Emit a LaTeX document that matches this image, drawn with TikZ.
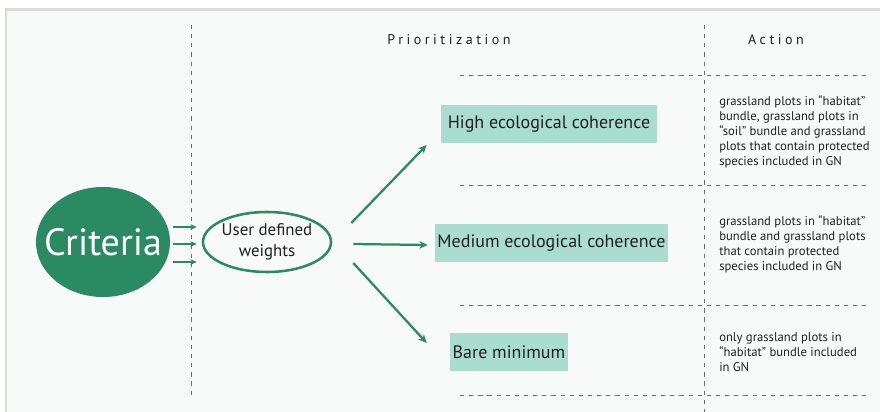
\documentclass[tikz,border=0pt]{standalone}
\usepackage{fontspec}
\setmainfont{PT Sans}
\usetikzlibrary{shapes.geometric,arrows.meta}

\definecolor{leaf}{HTML}{2A8A63}
\definecolor{mint}{HTML}{A9DDCD}
\definecolor{paper}{HTML}{F8FAFA}
\definecolor{rim}{HTML}{DCDCD4}
\definecolor{ink}{HTML}{231F20}

\begin{document}
\begin{tikzpicture}[x=0.025cm,y=-0.025cm,
  sep/.style={draw=gray!85!black, line width=0.6pt, dash pattern=on 3pt off 3.5pt},
  level/.style={fill=mint, minimum height=0.95cm, inner sep=0pt, text=ink, font=\fontsize{12.8}{15}\selectfont},
  action/.style={anchor=west, align=left, inner sep=0pt, text=ink, font=\fontsize{9}{10.7}\selectfont},
  arr/.style={draw=leaf, line width=1.6pt, -{Stealth[length=6pt,width=5.5pt]}},
  smallarr/.style={draw=leaf, line width=1.2pt, -{Stealth[length=4.5pt,width=4pt]}},
  head/.style={text=ink, font=\fontsize{10}{12}\selectfont\addfontfeature{LetterSpace=25}}]

\useasboundingbox (0,0) rectangle (880,412);
\fill[white] (0,0) rectangle (880,412);
\fill[paper] (6,9) rectangle (880,412);
\draw[rim, line width=1.5pt] (6,412) -- (6,9.5) -- (880,9.5);

% columns and rows
\draw[sep] (191,25) -- (191,398);
\draw[sep] (704,25) -- (704,412);
\foreach \y in {75,185,305,395}
  \draw[sep] (460,\y) -- (870,\y);

\node[head] (prio) at (449,40) {Prioritization};
\node[head] (act) at (776,40) {Action};

\node[ellipse, fill=leaf, minimum width=3.35cm, minimum height=2.75cm, inner sep=0pt,
  label={[text=white, font=\fontsize{27}{30}\selectfont]center:Criteria}] (criteria) at (103,242) {};
\node[ellipse, draw=leaf, line width=1.8pt, minimum width=3.1cm, minimum height=1.5cm, inner sep=0pt,
  align=center, text=ink, font=\fontsize{12}{14.5}\selectfont] (weights) at (267,242) {User defined\\weights};

\node[level, minimum width=5.4cm] (high) at (549,124) {High ecological coherence};
\node[level, minimum width=5.825cm] (medium) at (551.5,243) {Medium ecological coherence};
\node[level, minimum width=2.95cm] (bare) at (509,352) {Bare minimum};

\node[action] (act1) at (719,132) {grassland plots in “habitat”\\bundle, grassland plots in\\“soil” bundle and grassland\\plots that contain protected\\species included in GN};
\node[action] (act2) at (719,244) {grassland plots in “habitat”\\bundle and grassland plots\\that contain protected\\species included in GN};
\node[action] (act3) at (719,352) {only grassland plots in\\“habitat” bundle included\\in GN};

\foreach \dy in {-15,2,20}
  \draw[smallarr] ([shift={(3,\dy)}]criteria.east) -- ([shift={(-5,\dy)}]weights.west);

\draw[arr] ([shift={(19,-19)}]weights.east) -- ([shift={(-14,21)}]high.west);
\draw[arr] ([shift={(21,2)}]weights.east) -- ([shift={(-7,2)}]medium.west);
\draw[arr] ([shift={(21,21)}]weights.east) -- ([shift={(-23,-9)}]bare.west);

\end{tikzpicture}
\end{document}
